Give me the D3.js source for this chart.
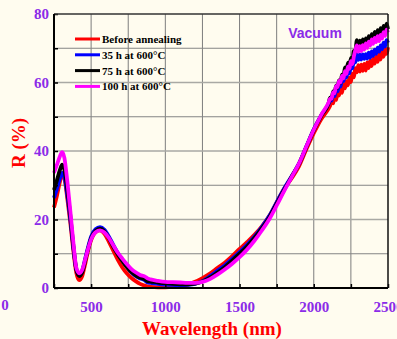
<!DOCTYPE html>
<html>
<head>
<meta charset="utf-8">
<script src="https://cdn.jsdelivr.net/npm/d3@7"></script>
<style>
  html, body { margin: 0; padding: 0; background: #fffcef; }
  svg { display: block; }
</style>
</head>
<body>
<svg id="chart"></svg>
<script>
// wavelength grid (nm); 10 nm steps in the noisy NIR tail
var wavelengths = [250, 270, 290, 305, 320, 340, 360, 380, 400, 420, 440, 460, 480, 500, 530, 560, 590, 620, 650, 680,
  710, 740, 770, 800, 830, 860, 880, 900, 950, 1000, 1050, 1100, 1150, 1200, 1250, 1300, 1350, 1400, 1450, 1500,
  1550, 1600, 1650, 1700, 1750, 1800, 1850, 1900, 1950, 2000, 2050, 2100,
  2110, 2120, 2130, 2140, 2150, 2160, 2170, 2180, 2190, 2200, 2210, 2220, 2230, 2240, 2250, 2260, 2270, 2280, 2290, 2300,
  2310, 2320, 2330, 2340, 2350, 2360, 2370, 2380, 2390, 2400, 2410, 2420, 2430, 2440, 2450, 2460, 2470, 2480, 2490, 2500];

var before = [23.5, 27, 31, 33, 32, 26, 19, 11, 4.5, 2.3, 3.5, 7, 11, 14, 16.3, 16.8, 15.8, 13.5, 10.8, 8.2,
  6, 4.3, 3, 2, 1.2, 0.7, 0.5, 0.3, 0.2, 0.2, 0.3, 0.6, 1, 1.8, 2.9, 4.2, 5.8, 7.4, 9.3, 11.4,
  13.4, 15.5, 18, 21, 25, 29, 32, 35.5, 40.5, 45.2, 49.3, 52.4,
  53.2, 54.6, 53.9, 55.8, 54.9, 57.0, 56.2, 58.1, 57.0, 59.4, 58.3, 60.4, 59.2, 61.5, 60.1, 62.6, 61.5, 64.2, 63.0, 65.1,
  63.2, 65.2, 63.4, 65.4, 63.5, 65.9, 64.2, 66.4, 64.8, 67.0, 65.5, 67.6, 66.0, 68.2, 66.7, 68.9, 67.5, 69.7, 68.4, 70.3];

var h35 = [26.3, 29, 32, 33.6, 32.5, 27, 20, 12, 5.5, 3.8, 5, 8.5, 12, 15, 17.2, 17.8, 17, 15, 12.5, 10.2,
  8.3, 6.3, 4.6, 3.5, 2.8, 2.3, 1.6, 1.5, 1.2, 1.0, 0.9, 0.8, 0.9, 1.2, 2.0, 3.4, 5, 6.6, 8.5, 10.5,
  12.6, 15, 17.8, 21, 25, 29, 32.6, 36.3, 41.3, 46.3, 50.4, 53.8,
  54.8, 54.7, 56.4, 56.0, 57.9, 57.4, 59.3, 58.8, 60.9, 60.4, 62.3, 61.5, 63.5, 62.7, 64.8, 64.1, 66.6, 65.9, 68.3, 66.6,
  68.1, 66.7, 68.2, 66.9, 68.3, 67.0, 68.7, 67.3, 69.1, 67.8, 69.6, 68.4, 70.2, 69.0, 70.8, 69.7, 71.6, 70.5, 72.4, 71.6];

var h75 = [28.6, 31.5, 34.5, 36, 34.5, 28.5, 21, 12.5, 5.5, 3.5, 4.6, 8, 11.5, 14.5, 16.7, 17.3, 16.5, 14.5, 12, 9.8,
  7.9, 6.1, 4.7, 3.7, 3, 2.6, 2, 1.9, 1.6, 1.4, 1.2, 1.1, 1.1, 1.3, 1.9, 3, 4.5, 6.1, 8, 10,
  12.1, 14.6, 17.4, 20.6, 24.6, 28.6, 32.4, 36.2, 41.2, 46.1, 50.3, 54,
  55.6, 55.1, 57.4, 56.8, 59.1, 58.4, 60.6, 59.8, 62.3, 61.7, 64.4, 62.9, 65.8, 64.4, 67.2, 66.1, 69.2, 69.0, 72.4, 70.0,
  72.2, 70.3, 72.6, 70.6, 72.9, 71.0, 73.5, 71.6, 74.1, 72.2, 74.8, 72.8, 75.3, 73.4, 75.9, 74.0, 76.5, 74.6, 77.2, 75.6];

var h100 = [33.6, 36, 38.5, 39.7, 38, 31, 22.5, 13.5, 6, 4.3, 5.3, 8.3, 11.5, 14.2, 16.3, 16.8, 16.2, 14.6, 12.4, 10.3,
  8.6, 7, 5.6, 4.6, 3.8, 3.4, 2.8, 2.5, 2.1, 1.8, 1.7, 1.6, 1.5, 1.5, 1.8, 2.6, 3.9, 5.4, 7.1, 9,
  11.2, 13.8, 16.8, 20.1, 24.1, 28.3, 32.3, 36.3, 41.3, 46.2, 50.5, 54.2,
  55.3, 55.2, 57.1, 56.8, 58.9, 58.6, 60.5, 60.0, 61.9, 61.2, 63.3, 62.5, 64.6, 64.0, 66.2, 65.4, 67.6, 69.4, 70.8, 69.0,
  70.6, 69.2, 70.9, 69.6, 71.4, 70.1, 71.9, 70.8, 72.6, 71.3, 73.0, 71.8, 73.5, 72.1, 73.9, 72.8, 74.7, 73.6, 75.4, 74.6];

var seriesNames = ['Before annealing', '35 h at 600\u00B0C', '75 h at 600\u00B0C', '100 h at 600\u00B0C'];
var seriesColors = ['#ff0000', '#0000ff', '#000000', '#ff00ff'];
var seriesValues = [before, h35, h75, h100];

var xTicks = [500, 1000, 1500, 2000, 2500];
var yTicks = [0, 20, 40, 60, 80];

var W = 397, H = 339;
var margin = {top: 14, right: 9, bottom: 51, left: 54};
var width = W - margin.left - margin.right;
var height = H - margin.top - margin.bottom;
var purple = '#8b2be8';

var svg = d3.select('#chart').attr('width', W).attr('height', H);
svg.append('rect').attr('width', W).attr('height', H).attr('fill', '#fffcef');

var g = svg.append('g').attr('transform', 'translate(' + margin.left + ',' + margin.top + ')');

var x = d3.scaleLinear().domain([250, 2500]).range([0, width]);
var y = d3.scaleLinear().domain([0, 80]).range([height, 0]);

// grid
g.append('g').selectAll('line')
  .data(d3.range(500, 2500, 250))
  .enter().append('line')
  .attr('x1', function (d) { return x(d); }).attr('x2', function (d) { return x(d); })
  .attr('y1', 0).attr('y2', height)
  .style('stroke', '#7d7d7d').style('stroke-width', '1px');

g.append('g').selectAll('line')
  .data(d3.range(10, 80, 10))
  .enter().append('line')
  .attr('x1', 0).attr('x2', width)
  .attr('y1', function (d) { return y(d); }).attr('y2', function (d) { return y(d); })
  .style('stroke', function (d) { return d % 20 === 0 ? '#a9a9a4' : '#858585'; })
  .style('stroke-width', function (d) { return d % 20 === 0 ? '1.6px' : '1px'; });

// curves
var line = d3.line()
  .x(function (d) { return x(d[0]); })
  .y(function (d) { return y(d[1]); })
  .curve(d3.curveMonotoneX);

seriesValues.forEach(function (vals, i) {
  g.append('path')
    .datum(d3.zip(wavelengths, vals))
    .attr('d', line)
    .style('fill', 'none')
    .style('stroke', seriesColors[i])
    .style('stroke-width', '3.8px')
    .style('stroke-linejoin', 'round');
});

// axes
var xAxis = g.append('g')
  .attr('transform', 'translate(0,' + height + ')')
  .call(d3.axisBottom(x).tickValues(d3.range(250, 2501, 250)).tickSize(-4).tickFormat(function (d) {
    return xTicks.indexOf(d) >= 0 ? d : '';
  }));
xAxis.select('.domain').remove();
xAxis.selectAll('.tick line').style('stroke', '#000').style('stroke-width', '1.5px');
xAxis.selectAll('.tick text')
  .attr('dy', 0).attr('y', 24)
  .style('font-family', '"Liberation Serif", "Times New Roman", serif')
  .style('font-weight', 'bold').style('font-size', '15px').style('fill', purple);

var yAxis = g.append('g')
  .call(d3.axisLeft(y).tickValues(d3.range(0, 81, 10)).tickSize(-4).tickFormat(function (d) {
    return yTicks.indexOf(d) >= 0 ? d : '';
  }));
yAxis.select('.domain').remove();
yAxis.selectAll('.tick line').style('stroke', '#000').style('stroke-width', '1.5px');
yAxis.selectAll('.tick text')
  .attr('x', -5)
  .style('font-family', '"Liberation Serif", "Times New Roman", serif')
  .style('font-weight', 'bold').style('font-size', '15px').style('fill', purple);

// frame
g.append('line').attr('x1', 0).attr('x2', width).attr('y1', 0).attr('y2', 0)
  .style('stroke', '#333').style('stroke-width', '1.5px');
g.append('line').attr('x1', width).attr('x2', width).attr('y1', 0).attr('y2', height)
  .style('stroke', '#111').style('stroke-width', '1.5px');
g.append('line').attr('x1', 0).attr('x2', width).attr('y1', height).attr('y2', height)
  .style('stroke', '#000').style('stroke-width', '2px');
g.append('line').attr('x1', 0).attr('x2', 0).attr('y1', 0).attr('y2', height)
  .style('stroke', '#000').style('stroke-width', '2px');

// legend
var legend = g.append('g').attr('transform', 'translate(21,25)');
seriesNames.forEach(function (name, i) {
  var row = legend.append('g').attr('transform', 'translate(0,' + (i * 15.8) + ')');
  row.append('line').attr('x1', 0).attr('x2', 25).attr('y1', 0).attr('y2', 0)
    .style('stroke', seriesColors[i]).style('stroke-width', '3px');
  row.append('text').attr('x', 27).attr('y', 4)
    .style('font-family', '"Liberation Serif", "Times New Roman", serif')
    .style('font-weight', 'bold').style('font-size', '11px').style('fill', '#000')
    .text(name);
});

// labels
svg.append('text')
  .attr('x', 315).attr('y', 38)
  .attr('text-anchor', 'middle')
  .style('font-family', '"Liberation Sans", Arial, sans-serif')
  .style('font-weight', 'bold').style('font-size', '14px').style('fill', purple)
  .text('Vacuum');

svg.append('text')
  .attr('transform', 'translate(25,' + 143 + ') rotate(-90)')
  .attr('text-anchor', 'middle')
  .style('font-family', '"Liberation Serif", "Times New Roman", serif')
  .style('font-weight', 'bold').style('font-size', '19px').style('fill', '#ff0000')
  .text('R (%)');

svg.append('text')
  .attr('x', 212).attr('y', 335)
  .attr('text-anchor', 'middle')
  .style('font-family', '"Liberation Serif", "Times New Roman", serif')
  .style('font-weight', 'bold').style('font-size', '19px').style('fill', '#ff0000')
  .text('Wavelength (nm)');

svg.append('text')
  .attr('x', 5).attr('y', 310)
  .attr('text-anchor', 'middle')
  .style('font-family', '"Liberation Serif", "Times New Roman", serif')
  .style('font-weight', 'bold').style('font-size', '15px').style('fill', purple)
  .text('0');
</script>
</body>
</html>
